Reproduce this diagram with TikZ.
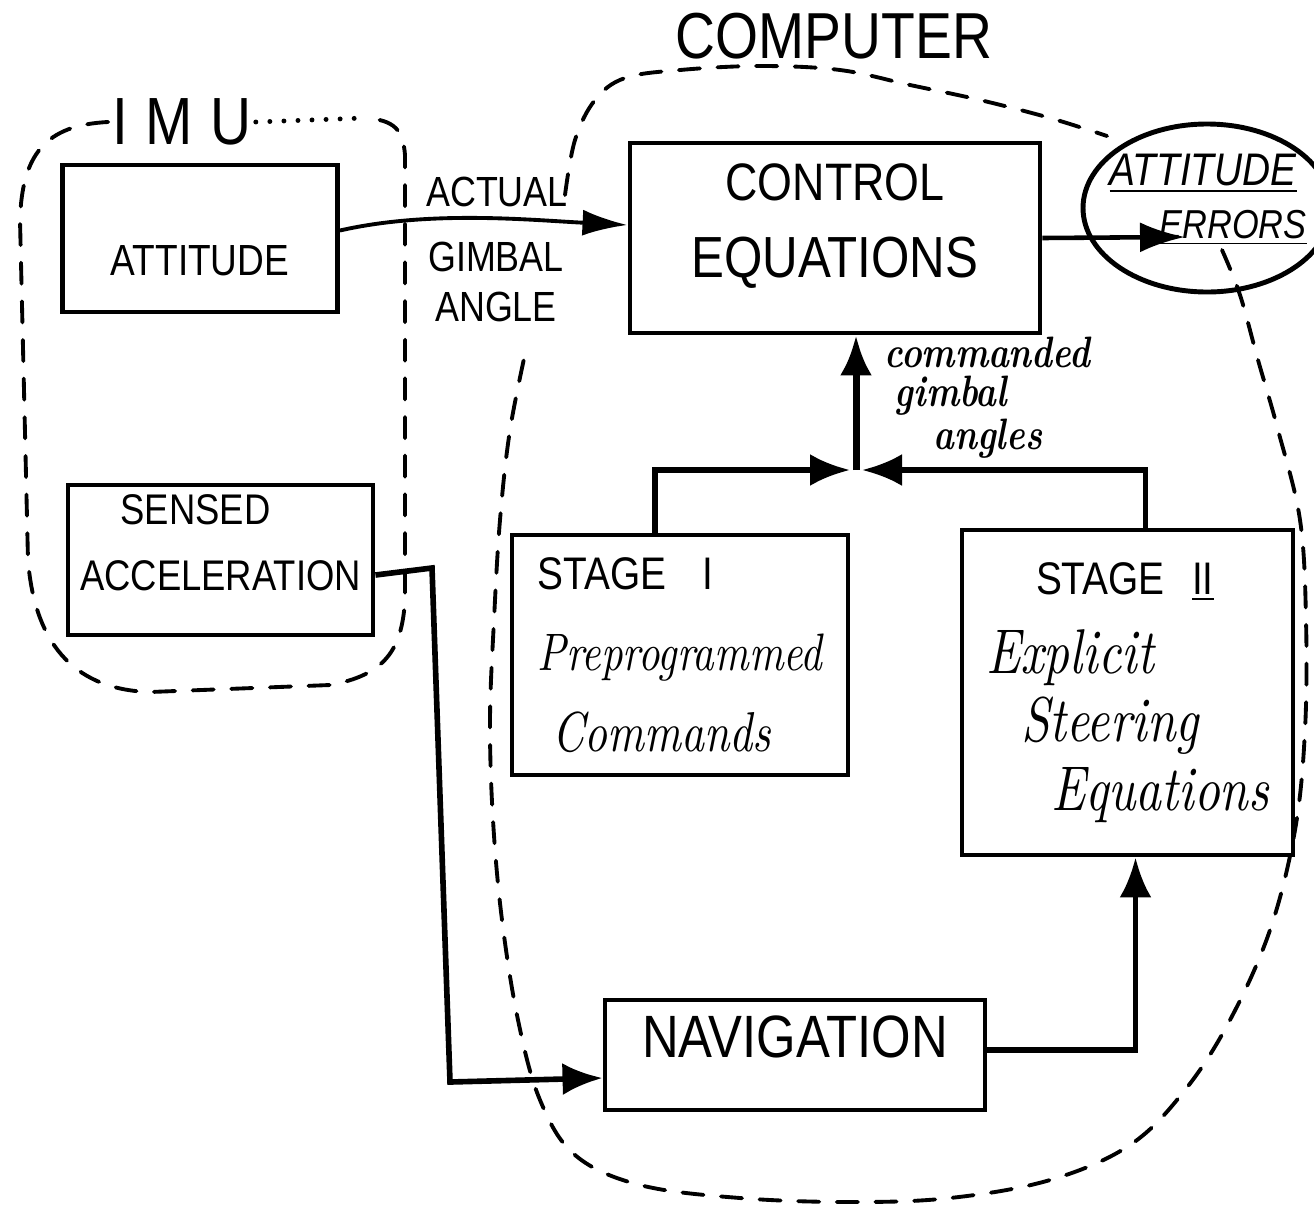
\documentclass[tikz,border=0pt]{standalone}
\usepackage{fontspec}
\newfontfamily\hand{Liberation Sans}[FakeStretch=0.85]
\newfontfamily\cursive{lmroman10-italic.otf}[FakeStretch=0.8]
\newfontfamily\cursivebf{lmroman10-bolditalic.otf}[FakeStretch=0.8]
\newcommand{\fs}[2]{\fontsize{#1}{#2}\selectfont}
\usepackage{tikz}
\usetikzlibrary{positioning,arrows.meta,shapes.geometric,calc}

\begin{document}
\begin{tikzpicture}[blk/.style={draw,line width=1.4pt,inner sep=0pt,align=center},
        bound/.style={line width=1.1pt,line cap=round,dash pattern=on 6pt off 5pt},
        thinarr/.style={line width=1.1pt,-{Latex[length=4.5mm,width=2.6mm]}},
        fatarr/.style={line width=1.6pt,-{Latex[length=4mm,width=3.2mm]}}]
    \useasboundingbox (0,0) rectangle (13.14,-12.15);

    \node[font={\hand\fs{18.5}{21}}] (computer) at (8.34,-0.36) {COMPUTER};
    \node[font={\hand\fs{19}{22}},inner sep=1pt] (imu) at (1.82,-1.22) {I\kern5pt M\kern5pt U};

    \node[blk,minimum width=2.75cm,minimum height=1.47cm,text height=0.75cm,font={\hand\fs{12.4}{15}}] (att) at (2.0,-2.385) {ATTITUDE};
    \node[blk,minimum width=3.05cm,minimum height=1.5cm,text depth=0.35cm,font={\hand\fs{12.2}{19}}] (sens) at (2.205,-5.6) {\hspace*{-0.5cm}SENSED\\ACCELERATION};
    \node[blk,minimum width=4.1cm,minimum height=1.9cm,text depth=0.35cm,font={\hand\fs{15}{22}}] (ctrl) at (8.35,-2.38) {CONTROL\\{\fs{16.5}{22}EQUATIONS}};
    \node[blk,minimum width=3.36cm,minimum height=2.4cm,align=left,font={\cursive\fs{15}{23}}] (stI) at (6.8,-6.55) {{\hand\fs{13}{16}STAGE\hspace{0.8em}I}\\Preprogrammed\\\hspace*{0.15cm}{\fs{16}{23}Commands}};
    \node[blk,minimum width=3.31cm,minimum height=3.25cm,align=left,font={\cursive\fs{18}{19.5}}] (stII) at (11.275,-6.925) {\hspace*{0.5cm}{\hand\fs{13}{16}STAGE\hspace{0.6em}\underline{II}}\\[3pt]Explicit\\\hspace*{0.35cm}Steering\\\hspace*{0.65cm}Equations};
    \node[blk,minimum width=3.8cm,minimum height=1.1cm,text depth=0.36cm,font={\hand\fs{17}{20}}] (nav) at (7.95,-10.55) {NAVIGATION};

    \coordinate (errc) at (12.07,-2.08);
    \draw[line width=1.4pt] (errc) ellipse [x radius=1.24cm,y radius=0.84cm];
    \node[inner sep=0pt,align=left,font={\hand\itshape\fs{12}{15}}] (err) at (12.08,-2.0) {{\fs{13}{15}\underline{ATTITUDE}}\\\hspace*{0.5cm}{\fs{11.5}{15}\underline{ERRORS}}};

    \coordinate (erri) at (11.85,-2.37);
    \coordinate (mid) at (8.56,-4.70);

    \draw[thinarr] ([yshift=0.8mm]att.east) .. controls (4.3,-2.1) and (5.3,-2.2) .. ([yshift=1.3mm]ctrl.west);
    \node[font={\hand\fs{12}{14.2}}] (actual) at (4.97,-1.92) {ACTUAL};
    \node[font={\hand\fs{12}{14.2}},align=center] (gangle) at (4.96,-2.82) {GIMBAL\\ANGLE};

    \draw[line width=1.3pt,-{Latex[length=4.5mm,width=3mm]}] (ctrl.east) -- (erri);

    \draw[fatarr] ([xshift=-2.5mm]stI.north) |- ([xshift=-0.6mm]mid);
    \draw[fatarr] ([xshift=1.8mm]stII.north) |- ([xshift=0.6mm]mid);
    \draw[fatarr,line width=2pt] (mid) -- (mid |- ctrl.south);
    \node[font={\cursivebf\fs{12.5}{11}},align=left,anchor=north west] (cga) at (8.72,-3.25) {commanded\\\hspace*{3pt}gimbal\\\hspace*{14pt}angles};

    \draw[fatarr] ([yshift=-1.5mm]sens.east) -- (4.32,-5.68) -- (4.5,-10.82) -- ([yshift=-2.3mm]nav.west);
    \draw[fatarr] ([yshift=0.5mm]nav.east) -| ([xshift=0.8mm]stII.south);

    \begin{scope}[bound]
        \draw (imu.west) .. controls (0.45,-1.25) and (0.22,-1.55) .. (0.2,-2.2) -- (0.28,-5.6)
            .. controls (0.35,-6.5) and (0.8,-6.9) .. (1.5,-6.92) -- (3.3,-6.85)
            .. controls (3.85,-6.75) and (4.02,-6.5) .. (4.05,-6.0) -- (4.05,-1.55)
            .. controls (4.03,-1.3) and (3.95,-1.2) .. (3.65,-1.18);
        \draw plot[smooth,tension=0.6] coordinates {(5.65,-1.95) (5.75,-1.4) (5.95,-1.0) (6.25,-0.78) (6.8,-0.7) (7.6,-0.66) (8.4,-0.7) (9.1,-0.85) (9.8,-1.0) (10.5,-1.18) (11.07,-1.36)};
        \draw plot[smooth,tension=0.6] coordinates {(12.22,-2.5) (12.4,-2.95) (12.58,-3.6) (12.78,-4.3) (13.0,-5.2) (13.06,-6.2) (13.05,-7.3) (12.95,-8.3) (12.7,-9.3) (12.3,-10.2) (11.85,-10.9) (11.3,-11.45) (10.5,-11.8) (9.5,-11.98) (8.5,-12.02) (7.4,-11.98) (6.4,-11.85) (5.75,-11.55) (5.4,-11.0) (5.18,-10.2) (5.02,-9.2) (4.93,-8.2) (4.9,-7.2) (4.94,-6.2) (5.0,-5.2) (5.1,-4.3) (5.27,-3.45)};
    \end{scope}
    \draw[line width=1.4pt,line cap=round,dash pattern=on 0pt off 4pt] (imu.east) -- (3.65,-1.18);
\end{tikzpicture}
\end{document}
